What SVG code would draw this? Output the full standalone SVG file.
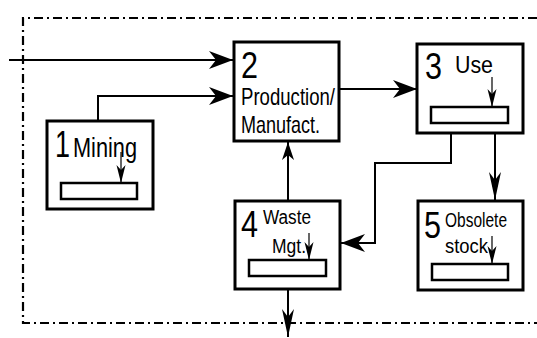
<svg xmlns="http://www.w3.org/2000/svg" width="537" height="338" viewBox="0 0 537 338">
<style>
.box{fill:#fff;stroke:#000;stroke-width:3}
.bar{fill:#fff;stroke:#000;stroke-width:2.5}
.con{fill:none;stroke:#000;stroke-width:2}
.tick{fill:none;stroke:#000;stroke-width:1.2}
.border{fill:none;stroke:#000;stroke-width:2.2;stroke-dasharray:9 4 2 4}
text{font-family:"Liberation Sans Narrow","Liberation Sans",Arial,sans-serif;fill:#000}
.num{font-size:36px}
.lbl{font-size:24px}
.sm{font-size:20px}
</style>
<defs>
<marker id="big" markerUnits="userSpaceOnUse" viewBox="-25 -10 26 20" markerWidth="26" markerHeight="20" refX="0" refY="0" orient="auto">
<path d="M0,0 L-24,-9 L-17,0 L-24,9 Z" fill="#000"/>
</marker>
<marker id="mid" markerUnits="userSpaceOnUse" viewBox="-19 -7 20 14" markerWidth="20" markerHeight="14" refX="0" refY="0" orient="auto">
<path d="M0,0 L-18,-6 L-13,0 L-18,6 Z" fill="#000"/>
</marker>
<marker id="long" markerUnits="userSpaceOnUse" viewBox="-31 -7 32 14" markerWidth="32" markerHeight="14" refX="0" refY="0" orient="auto">
<path d="M0,0 L-28,-6 L-20,0 L-28,6 Z" fill="#000"/>
</marker>
<marker id="tiny" markerUnits="userSpaceOnUse" viewBox="-19 -5 20 10" markerWidth="20" markerHeight="10" refX="0" refY="0" orient="auto">
<path d="M0,0 L-18,-4.5 L-13,0 L-18,4.5 Z" fill="#000"/>
</marker>
</defs>
<rect width="537" height="338" fill="#fff"/>
<path class="border" d="M537,18 H23 V323 H537"/>
<g id="connectors">
<path class="con" d="M9,60 H233" marker-end="url(#big)"/>
<path class="con" d="M98,121 V96 H233" marker-end="url(#big)"/>
<path class="con" d="M339,89 H417" marker-end="url(#big)"/>
<path class="con" d="M451,133 V163 H375 V243 H341" marker-end="url(#big)"/>
<path class="con" d="M495,133 V200" marker-end="url(#long)"/>
<path class="con" d="M288,201 V142" marker-end="url(#mid)"/>
<path class="con" d="M288,289 V337" marker-end="url(#long)"/>
</g>
<g id="node1">
<rect class="box" x="47" y="121" width="106" height="88"/>
<text class="num" x="55" y="157" textLength="15" lengthAdjust="spacingAndGlyphs">1</text>
<text x="73" y="157" font-size="28" textLength="64" lengthAdjust="spacingAndGlyphs">Mining</text>
<rect class="bar" x="61" y="183" width="76" height="16"/>
<path class="tick" d="M121,152 V183" marker-end="url(#tiny)"/>
</g>
<g id="node2">
<rect class="box" x="234" y="42" width="105" height="99"/>
<text class="num" x="241" y="78" textLength="17" lengthAdjust="spacingAndGlyphs">2</text>
<text class="lbl" x="241" y="105" textLength="94" lengthAdjust="spacingAndGlyphs">Production/</text>
<text class="lbl" x="241" y="133" textLength="79" lengthAdjust="spacingAndGlyphs">Manufact.</text>
</g>
<g id="node3">
<rect class="box" x="417" y="44" width="106" height="89"/>
<text class="num" x="425" y="79" textLength="17" lengthAdjust="spacingAndGlyphs">3</text>
<text x="455" y="73" font-size="24" textLength="38" lengthAdjust="spacingAndGlyphs">Use</text>
<rect class="bar" x="431" y="107" width="77" height="16"/>
<path class="tick" d="M492,77 V107" marker-end="url(#tiny)"/>
</g>
<g id="node4">
<rect class="box" x="235" y="201" width="105" height="88"/>
<text class="num" x="241" y="237" textLength="17" lengthAdjust="spacingAndGlyphs">4</text>
<text x="263" y="224" font-size="20" textLength="48" lengthAdjust="spacingAndGlyphs">Waste</text>
<text x="272" y="253" font-size="20" textLength="34" lengthAdjust="spacingAndGlyphs">Mgt.</text>
<rect class="bar" x="249" y="260" width="77" height="16"/>
<path class="tick" d="M309,233 V260" marker-end="url(#tiny)"/>
</g>
<g id="node5">
<rect class="box" x="418" y="201" width="105" height="89"/>
<text class="num" x="424" y="238" textLength="17" lengthAdjust="spacingAndGlyphs">5</text>
<text class="sm" x="445" y="227" textLength="62" lengthAdjust="spacingAndGlyphs">Obsolete</text>
<text class="sm" x="445" y="253" textLength="43" lengthAdjust="spacingAndGlyphs">stock</text>
<rect class="bar" x="432" y="264" width="76" height="16"/>
<path class="tick" d="M492,236 V264" marker-end="url(#tiny)"/>
</g>
</svg>
